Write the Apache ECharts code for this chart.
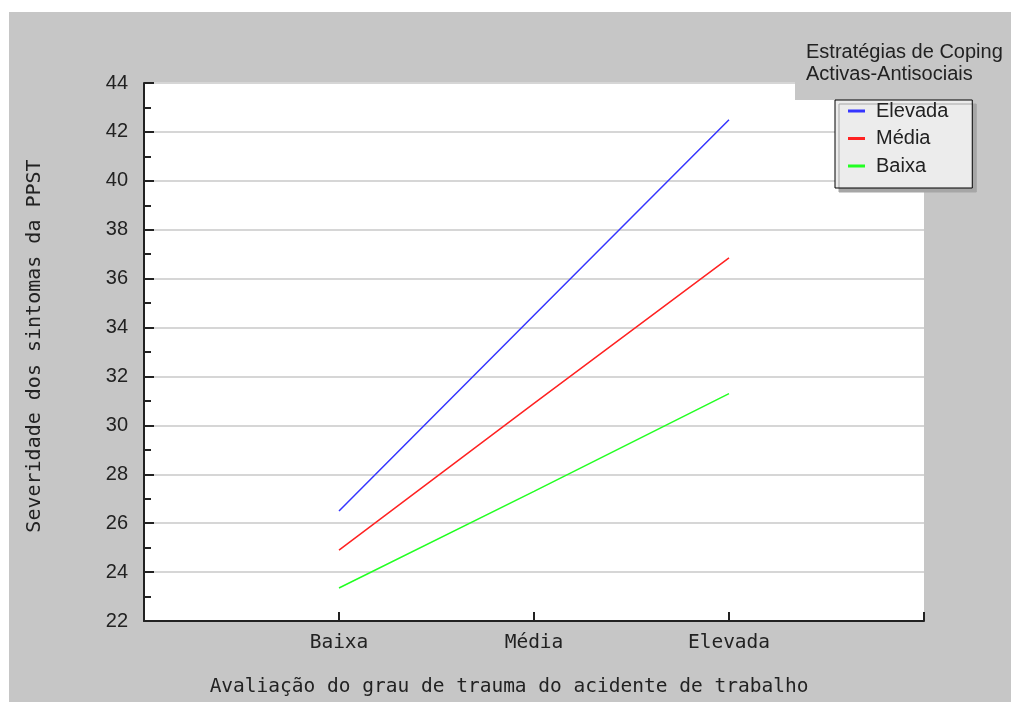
<!DOCTYPE html>
<html>
<head>
<meta charset="utf-8">
<script src="https://cdn.jsdelivr.net/npm/echarts@6/dist/echarts.min.js"></script>
<style>
  html, body { margin: 0; padding: 0; background: #ffffff; width: 1011px; height: 702px; overflow: hidden; }
  #chart { position: absolute; left: 9px; top: 12px; width: 1002px; height: 690px; }
</style>
</head>
<body>
<div id="chart"></div>
<script>
const categories = ['Baixa', 'Média', 'Elevada'];
const seriesNames = ['Elevada', 'Média', 'Baixa'];
const elevadaValues = [26.5, 34.5, 42.5];
const mediaValues = [24.9, 30.9, 36.85];
const baixaValues = [23.35, 27.3, 31.3];
const yTicks = { min: 22, max: 44, interval: 2 };
const legendTitle = 'Estratégias de Coping\nActivas-Antisociais';
const xTitle = 'Avaliação do grau de trauma do acidente de trabalho';
const yTitle = 'Severidade dos sintomas da PPST';

const colors = ['#3535ff', '#ff2222', '#22ff22'];
const valueSets = [elevadaValues, mediaValues, baixaValues];

const chart = echarts.init(document.getElementById('chart'), null, { renderer: 'canvas' });
const mono = 'DejaVu Sans Mono';
const sans = 'Liberation Sans';

chart.setOption({
  backgroundColor: '#c6c6c6',
  animation: false,
  title: {
    text: legendTitle,
    left: 786,
    top: 19,
    z: 10,
    backgroundColor: '#c6c6c6',
    padding: [10, 4, 15, 11],
    textStyle: { fontFamily: sans, fontSize: 20, fontWeight: 'normal', color: '#222', lineHeight: 22 }
  },
  legend: {
    data: seriesNames,
    orient: 'vertical',
    left: 826,
    top: 88,
    z: 11,
    backgroundColor: '#ececec',
    borderColor: '#000',
    borderWidth: 1,
    shadowColor: '#a6a6a6',
    shadowOffsetX: 4,
    shadowOffsetY: 4,
    shadowBlur: 0,
    padding: [1, 24, 12, 13],
    itemGap: 7.5,
    itemWidth: 17,
    itemHeight: 3,
    icon: 'rect',
    selectedMode: false,
    textStyle: { fontFamily: sans, fontSize: 20, color: '#222', lineHeight: 20, padding: [0, 0, 0, 6] }
  },
  grid: {
    left: 135, top: 71, right: 87, bottom: 80,
    show: true, backgroundColor: '#ffffff', borderWidth: 0,
    containLabel: false
  },
  xAxis: {
    type: 'value',
    min: 0, max: 4, interval: 1,
    name: xTitle,
    nameLocation: 'middle',
    nameGap: 56,
    nameTextStyle: { fontFamily: mono, fontSize: 19.5, color: '#222', padding: [0, 50, 0, 0] },
    axisLine: { show: true, lineStyle: { color: '#222', width: 2 } },
    axisTick: { show: true, inside: true, length: 9, lineStyle: { color: '#222', width: 2 } },
    axisLabel: {
      margin: 12,
      fontFamily: mono, fontSize: 19.5, color: '#222',
      formatter: v => categories[v - 1] || ''
    },
    splitLine: { show: false }
  },
  yAxis: {
    type: 'value',
    min: yTicks.min, max: yTicks.max, interval: yTicks.interval,
    name: yTitle,
    nameLocation: 'middle',
    nameGap: 99,
    nameRotate: 90,
    nameTextStyle: { fontFamily: mono, fontSize: 20, color: '#222', padding: [0, 0, 0, 12] },
    axisLine: { show: true, lineStyle: { color: '#222', width: 2 } },
    axisTick: { show: true, inside: true, length: 10, lineStyle: { color: '#222', width: 2 } },
    minorTick: { show: true, splitNumber: 2, length: 7, lineStyle: { color: '#222', width: 2 } },
    axisLabel: { margin: 16, fontFamily: sans, fontSize: 20, color: '#222' },
    splitLine: { show: true, lineStyle: { color: '#d6d6d6', width: 2 } }
  },
  series: seriesNames.map((name, i) => ({
    name: name,
    type: 'line',
    symbol: 'none',
    z: 3,
    color: colors[i],
    lineStyle: { color: colors[i], width: 1.5 },
    data: valueSets[i].map((v, j) => [j + 1, v])
  }))
});
</script>
</body>
</html>
